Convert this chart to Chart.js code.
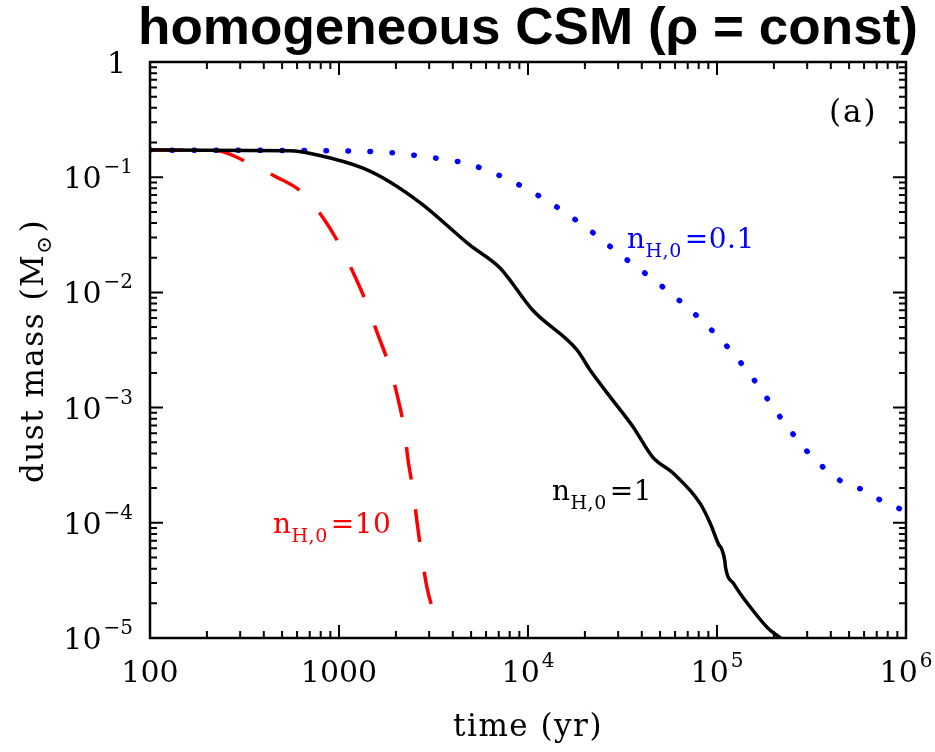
<!DOCTYPE html>
<html>
<head>
<meta charset="utf-8">
<script src="https://cdn.jsdelivr.net/npm/chart.js@4"></script>
<style>
  html, body { margin: 0; background: #fff; }
  canvas { display: block; }
</style>
</head>
<body>
<canvas id="dust" width="935" height="752"></canvas>
<script>
// n_H,0 = 0.1 cm^-3
const timeLow = [100, 690, 1650, 2820, 4930, 8130, 13100, 20800, 31800, 48800, 75500, 113000, 157000, 218000, 307000, 465000, 607000, 765000, 1000000];
const massLow = [0.172, 0.170, 0.166, 0.151, 0.129, 0.093, 0.060, 0.0355, 0.0204, 0.0120, 0.0066, 0.0034, 0.00174, 0.00081, 0.00040, 0.000224, 0.000190, 0.000151, 0.000126];

// n_H,0 = 1 cm^-3
const timeMid = [100, 550, 770, 1340, 1860, 2780, 4930, 7110, 10600, 18200, 21300, 27200, 36000, 45800, 58500, 81700, 92300, 102000, 106000, 110000, 111000, 123000, 151000, 185000, 222000];
const massMid = [0.172, 0.170, 0.156, 0.120, 0.091, 0.0575, 0.0257, 0.0163, 0.0070, 0.00316, 0.00212, 0.00124, 0.00068, 0.00037, 0.00027, 0.000146, 0.000098, 0.000065, 0.000059, 0.0000467, 0.0000409, 0.0000294, 0.0000183, 0.0000123, 0.0000097];

// n_H,0 = 10 cm^-3
const timeHigh = [100, 226, 326, 458, 637, 822, 1010, 1190, 1410, 1590, 1840, 2030, 2210, 2320, 2470, 2590, 2750, 2920, 3350];
const massHigh = [0.172, 0.170, 0.135, 0.102, 0.074, 0.0447, 0.0257, 0.0148, 0.0078, 0.0045, 0.00234, 0.00129, 0.00066, 0.00035, 0.000186, 0.000100, 0.000050, 0.0000275, 0.0000125];

const xTicks = [100, 1000, 1e4, 1e5, 1e6];
const xTickLabels = [["100", ""], ["1000", ""], ["10", "4"], ["10", "5"], ["10", "6"]];
const yTicks = [1, 1e-1, 1e-2, 1e-3, 1e-4, 1e-5];
const yTickLabels = [["1", ""], ["10", "\u22121"], ["10", "\u22122"], ["10", "\u22123"], ["10", "\u22124"], ["10", "\u22125"]];

const SERIF = '"DejaVu Serif", serif';

function points(xs, ys) {
  return xs.map((x, i) => ({ x, y: ys[i] }));
}

function setSpacing(ctx, px) {
  if ("letterSpacing" in ctx) ctx.letterSpacing = px + "px";
}

// number with an optional raised exponent
function drawPow(ctx, base, exp, x, y, align) {
  ctx.font = "30px " + SERIF;
  const wb = ctx.measureText(base).width;
  ctx.font = "20px " + SERIF;
  const we = exp ? ctx.measureText(exp).width + 2 : 0;
  let x0 = x;
  if (align === "right") x0 = x - wb - we;
  if (align === "center") x0 = x - (wb + we) / 2;
  ctx.font = "30px " + SERIF;
  ctx.fillText(base, x0, y);
  if (exp) {
    ctx.font = "20px " + SERIF;
    ctx.fillText(exp, x0 + wb + 2, y - 15);
  }
}

// n_{H,0}=value
function drawDensity(ctx, value, x, y, color) {
  ctx.fillStyle = color;
  ctx.font = "28px " + SERIF;
  ctx.fillText("n", x, y);
  let cx = x + ctx.measureText("n").width;
  ctx.font = "19px " + SERIF;
  ctx.fillText("H,0", cx, y + 9);
  cx += ctx.measureText("H,0").width + 3;
  ctx.font = "28px " + SERIF;
  ctx.fillText("=" + value, cx, y);
}

const frame = {
  id: "frame",
  afterDraw(chart) {
    const { ctx, chartArea: a } = chart;
    const xs = chart.scales.x, ys = chart.scales.y;
    ctx.save();
    ctx.strokeStyle = "#000";
    ctx.fillStyle = "#000";

    // inward ticks on all four sides
    ctx.lineWidth = 2;
    ctx.beginPath();
    for (let d = 100; d <= 1e6; d *= 10) {
      for (let k = 1; k <= 9; k++) {
        const v = d * k;
        if (v > 1e6) break;
        const px = xs.getPixelForValue(v);
        const len = k === 1 ? 13 : 7;
        ctx.moveTo(px, a.bottom); ctx.lineTo(px, a.bottom - len);
        ctx.moveTo(px, a.top); ctx.lineTo(px, a.top + len);
      }
    }
    for (let d = 1e-5; d <= 1.0001; d *= 10) {
      for (let k = 1; k <= 9; k++) {
        const v = d * k;
        if (v > 1.0001) break;
        const py = ys.getPixelForValue(v);
        const len = k === 1 ? 13 : 7;
        ctx.moveTo(a.left, py); ctx.lineTo(a.left + len, py);
        ctx.moveTo(a.right, py); ctx.lineTo(a.right - len, py);
      }
    }
    ctx.stroke();

    ctx.lineWidth = 2.5;
    ctx.strokeRect(a.left, a.top, a.right - a.left, a.bottom - a.top);

    // tick labels
    ctx.textAlign = "left";
    ctx.textBaseline = "alphabetic";
    xTicks.forEach((v, i) => {
      drawPow(ctx, xTickLabels[i][0], xTickLabels[i][1], xs.getPixelForValue(v), a.bottom + 44, "center");
    });
    yTicks.forEach((v, i) => {
      const [b, e] = yTickLabels[i];
      drawPow(ctx, b, e, e ? a.left - 17 : a.left - 24, ys.getPixelForValue(v) + 11, "right");
    });

    // axis titles
    ctx.font = "31px " + SERIF;
    setSpacing(ctx, 1.5);
    const xt = "time (yr)";
    ctx.fillText(xt, (a.left + a.right) / 2 - ctx.measureText(xt).width / 2, 736);

    ctx.save();
    ctx.translate(43, 352);
    ctx.rotate(-Math.PI / 2);
    const p1 = "dust mass (M", p3 = ")";
    ctx.font = "31px " + SERIF;
    const w1 = ctx.measureText(p1).width, w3 = ctx.measureText(p3).width;
    ctx.font = "21px " + SERIF;
    const w2 = ctx.measureText("\u2299").width;
    let sx = -(w1 + w2 + w3) / 2;
    ctx.font = "31px " + SERIF;
    ctx.fillText(p1, sx, 0);
    ctx.font = "21px " + SERIF;
    ctx.fillText("\u2299", sx + w1, 8);
    ctx.font = "31px " + SERIF;
    ctx.fillText(p3, sx + w1 + w2 + 2, 0);
    ctx.restore();

    // panel tag and curve labels
    ctx.font = "31px " + SERIF;
    setSpacing(ctx, 2);
    ctx.fillText("(a)", 829, 122);
    setSpacing(ctx, 0.5);
    drawDensity(ctx, "0.1", 627, 248, "#0000ff");
    drawDensity(ctx, "1", 552, 500, "#000");
    drawDensity(ctx, "10", 273, 533, "#ff0000");
    setSpacing(ctx, 0);

    // heading
    ctx.fillStyle = "#000";
    ctx.font = "bold 50px \"Liberation Sans\", Arial, sans-serif";
    const title = "homogeneous CSM (\u03c1 = const)";
    const tw = ctx.measureText(title).width;
    ctx.save();
    ctx.translate(138, 44);
    ctx.scale(780 / tw, 1.04);
    ctx.fillText(title, 0, 0);
    ctx.restore();

    ctx.restore();
  }
};

new Chart(document.getElementById("dust"), {
  type: "line",
  data: {
    datasets: [
      {
        label: "n=1",
        data: points(timeMid, massMid),
        borderColor: "#000",
        borderWidth: 3.5,
        cubicInterpolationMode: "monotone",
        clip: 0,
        order: 0,
      },
      {
        label: "n=0.1",
        data: points(timeLow, massLow),
        borderColor: "#0000ff",
        borderWidth: 5.5,
        borderDash: [0.5, 21.5],
        borderCapStyle: "round",
        cubicInterpolationMode: "monotone",
        clip: 0,
        order: 1,
      },
      {
        label: "n=10",
        data: points(timeHigh, massHigh),
        borderColor: "#ff0000",
        borderWidth: 3.5,
        borderDash: [33, 30],
        cubicInterpolationMode: "monotone",
        clip: 0,
        order: 2,
      },
    ],
  },
  options: {
    responsive: false,
    animation: false,
    devicePixelRatio: 1,
    layout: { padding: { left: 150, right: 29, top: 62, bottom: 114 } },
    elements: { point: { radius: 0 } },
    plugins: {
      legend: { display: false },
      tooltip: { enabled: false },
    },
    scales: {
      x: { type: "logarithmic", min: 100, max: 1e6, display: false },
      y: { type: "logarithmic", min: 1e-5, max: 1, display: false },
    },
  },
  plugins: [frame],
});
</script>
</body>
</html>
